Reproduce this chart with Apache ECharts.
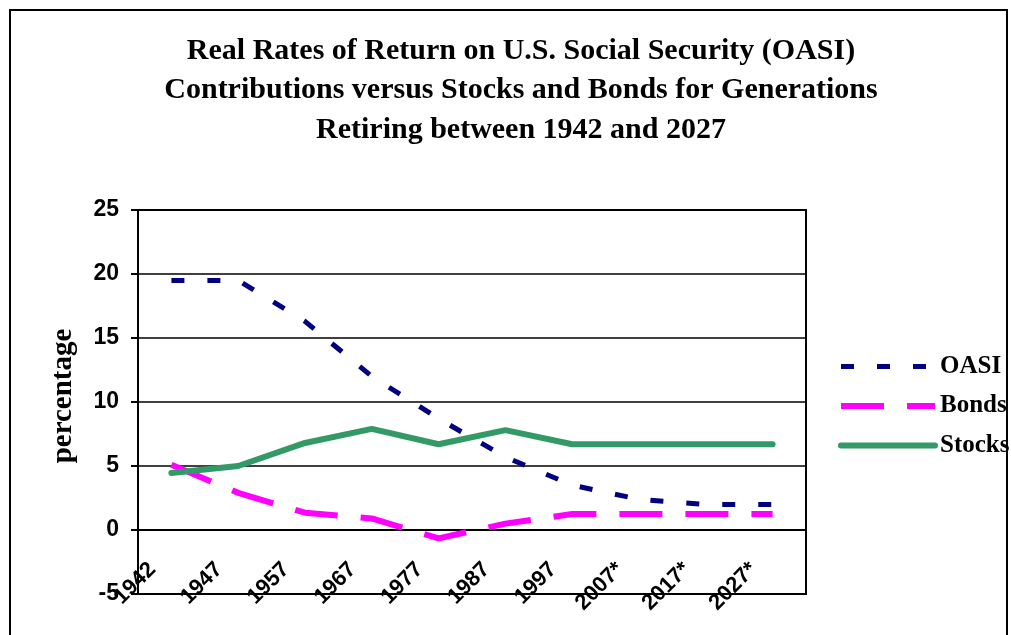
<!DOCTYPE html>
<html>
<head>
<meta charset="utf-8">
<script src="https://cdn.jsdelivr.net/npm/echarts@6/dist/echarts.min.js"></script>
<style>
  html, body { margin: 0; padding: 0; background: #fff; }
  #main { width: 1011px; height: 635px; }
</style>
</head>
<body>
<div id="main"></div>
<script>
// retirement year cohorts
var years = ['1942', '1947', '1957', '1967', '1977', '1987', '1997', '2007*', '2017*', '2027*'];
// real rates of return, percent
var oasi   = [19.5, 19.5, 16.3, 12.0, 8.7, 5.7, 3.5, 2.4, 2.0, 2.0];
var bonds  = [5.1, 2.9, 1.35, 0.9, -0.65, 0.5, 1.25, 1.25, 1.25, 1.25];
var stocks = [4.45, 5.0, 6.8, 7.9, 6.7, 7.8, 6.7, 6.7, 6.7, 6.7];
var yTicks = { min: -5, max: 25, step: 5 };

var oasiLine   = { color: '#000080', width: 5, type: [13, 23] };
var bondsLine  = { color: '#ff00ff', width: 6, type: [43, 23] };
var stocksLine = { color: '#339966', width: 6, cap: 'round', join: 'round' };

var chart = echarts.init(document.getElementById('main'));

chart.setOption({
  animation: false,
  backgroundColor: '#fff',
  title: {
    text: 'Real Rates of Return on U.S. Social Security (OASI)\nContributions versus Stocks and Bonds for Generations\nRetiring between 1942 and 2027',
    left: 516,
    top: 26,
    textAlign: 'center',
    textStyle: {
      fontFamily: 'Liberation Serif',
      fontWeight: 'bold',
      fontSize: 30,
      lineHeight: 39.5,
      color: '#000'
    }
  },
  legend: {
    orient: 'vertical',
    left: 833,
    top: 349,
    itemWidth: 94,
    itemHeight: 14,
    itemGap: 14.5,
    data: [
      { name: 'OASI', lineStyle: oasiLine, itemStyle: { opacity: 0 } },
      { name: 'Bonds', lineStyle: bondsLine, itemStyle: { opacity: 0 } },
      { name: 'Stocks', lineStyle: stocksLine, itemStyle: { opacity: 0 } }
    ],
    textStyle: {
      fontFamily: 'Liberation Serif',
      fontWeight: 'bold',
      fontSize: 25,
      color: '#000'
    }
  },
  grid: {
    left: 138,
    right: 205,
    top: 210,
    bottom: 41,
    show: true,
    borderColor: '#000',
    borderWidth: 2
  },
  xAxis: [
    {
      type: 'category',
      data: years,
      axisLine: { onZero: true, lineStyle: { color: '#000', width: 2 } },
      axisTick: { length: 8, lineStyle: { color: '#000', width: 2 } },
      axisLabel: { show: false },
      splitLine: { show: false }
    },
    {
      type: 'category',
      data: years,
      position: 'bottom',
      axisLine: { show: false, onZero: false },
      axisTick: { show: false },
      splitLine: { show: false },
      axisLabel: {
        rotate: 45,
        margin: -47,
        padding: [0, 27, 0, 0],
        interval: 0,
        color: '#000',
        fontFamily: 'Liberation Sans',
        fontWeight: 'bold',
        fontSize: 22
      }
    }
  ],
  yAxis: {
    type: 'value',
    min: yTicks.min,
    max: yTicks.max,
    interval: yTicks.step,
    name: 'percentage',
    nameLocation: 'middle',
    nameGap: 60,
    nameTextStyle: {
      fontFamily: 'Liberation Serif',
      fontWeight: 'bold',
      fontSize: 29,
      color: '#000',
      padding: [0, 0, 0, 12]
    },
    axisLine: { show: true, lineStyle: { color: '#000', width: 2 } },
    axisTick: { show: true, length: 7, lineStyle: { color: '#000', width: 2 } },
    axisLabel: {
      margin: 19,
      color: '#000',
      fontFamily: 'Liberation Sans',
      fontWeight: 'bold',
      fontSize: 23
    },
    splitLine: { lineStyle: { color: '#000', width: 1.5 } }
  },
  series: [
    {
      name: 'OASI',
      type: 'line',
      data: oasi,
      symbol: 'none',
      color: '#000080',
      lineStyle: oasiLine
    },
    {
      name: 'Bonds',
      type: 'line',
      data: bonds,
      symbol: 'none',
      color: '#ff00ff',
      lineStyle: bondsLine
    },
    {
      name: 'Stocks',
      type: 'line',
      data: stocks,
      symbol: 'none',
      color: '#339966',
      lineStyle: stocksLine
    }
  ],
  graphic: [
    {
      type: 'rect',
      silent: true,
      shape: { x: 10, y: 10, width: 997, height: 640 },
      style: { fill: null, stroke: '#000', lineWidth: 2 }
    }
  ]
});
</script>
</body>
</html>
